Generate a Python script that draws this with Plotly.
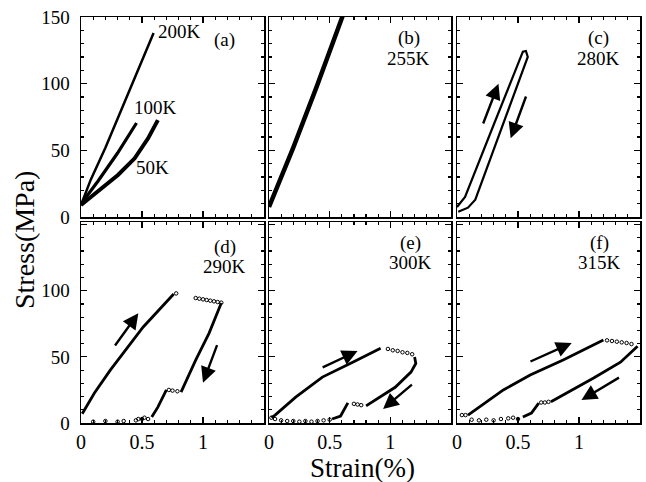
import plotly.graph_objects as go

# ---------------- data ----------------
# (a) 50K / 100K / 200K
a200_x = [0, 0.08, 0.2, 0.31, 0.45, 0.595]
a200_y = [9, 28, 52, 76, 106, 138]
a100_x = [0, 0.05, 0.14, 0.3, 0.455]
a100_y = [9, 16, 27, 48, 70.5]
a50_x = [0, 0.139, 0.303, 0.44, 0.55, 0.63]
a50_y = [9, 19, 31.5, 44, 59, 72.7]
# (b) 255K
b_x = [0, 0.1, 0.2, 0.39, 0.61]
b_y = [7.5, 29, 52, 97, 151.5]
# (c) 280K loop
c_x = [0.0, 0.066, 0.3, 0.54, 0.565, 0.58, 0.15, 0.09, 0.01]
c_y = [7.5, 15, 69, 124, 124.5, 120, 13, 7, 4]
# (d) 290K
d_load_x = [0.01, 0.11, 0.24, 0.51, 0.76]
d_load_y = [7, 22.7, 40, 72.6, 97.5]
d_top_x = [0.78, 0.94, 0.97, 1.0, 1.03, 1.06, 1.09, 1.12, 1.15]
d_top_y = [98, 94.5, 94, 93.5, 93, 92.5, 92, 91.5, 91]
d_unl_x = [1.15, 1.05, 0.94, 0.82]
d_unl_y = [90.7, 68, 47.6, 23.4]
d_mid_x = [0.72, 0.75, 0.79]
d_mid_y = [25, 24.5, 24]
d_low_x = [0.70, 0.63, 0.58]
d_low_y = [25, 12, 4.5]
d_base_x = [0.1, 0.2, 0.3, 0.35, 0.45, 0.47, 0.5, 0.52, 0.55]
d_base_y = [1, 1.5, 1, 1.5, 2, 3, 3, 4, 3]
# (e) 300K
e_load_x = [0.02, 0.05, 0.22, 0.44, 0.69, 0.92]
e_load_y = [4, 6, 19.5, 34.7, 46, 56.6]
e_top_x = [0.98, 1.02, 1.06, 1.1, 1.14, 1.18]
e_top_y = [56, 55, 54.5, 53.5, 53, 52]
e_unl_x = [1.2, 1.21, 1.17, 1.04, 0.8]
e_unl_y = [50, 45, 38.5, 27, 13]
e_mid_x = [0.7, 0.73, 0.76]
e_mid_y = [14.5, 14, 13.5]
e_low_x = [0.65, 0.59, 0.52]
e_low_y = [15.2, 5.3, 3]
e_base_x = [0.02, 0.05, 0.1, 0.15, 0.2, 0.25, 0.3, 0.35, 0.4, 0.45, 0.5]
e_base_y = [4, 3, 2, 1.5, 1.5, 1, 1.5, 1, 1.5, 2, 2.5]
# (f) 315K
f_load_x = [0.09, 0.38, 0.6, 0.87, 1.2]
f_load_y = [6, 25, 36.3, 47.6, 62.7]
f_top_x = [1.23, 1.27, 1.31, 1.35, 1.39, 1.43]
f_top_y = [62.5, 62, 61.5, 61, 60.5, 59.7]
f_unl_x = [1.48, 1.34, 1.12, 0.87, 0.77]
f_unl_y = [58, 46, 34, 21, 16]
f_mid_x = [0.69, 0.72, 0.75]
f_mid_y = [15.5, 15.5, 16]
f_low_x = [0.67, 0.61, 0.54]
f_low_y = [15, 7.5, 4.5]
f_base_x = [0.04, 0.07, 0.12, 0.18, 0.24, 0.3, 0.36, 0.42, 0.46, 0.5]
f_base_y = [6, 6, 2.5, 2, 2.5, 2, 3, 3.5, 4, 3]

# arrows: (panel, tail_x, tail_y, tip_x, tip_y)
arrows = [
    (3, 0.21, 69, 0.34, 100), (3, 0.57, 91.5, 0.44, 59),
    (4, 0.27, 57.5, 0.47, 83), (4, 1.12, 60, 1.0, 30.5),
    (5, 0.43, 41.6, 0.73, 54.4), (5, 1.19, 30, 0.94, 10.6),
    (6, 0.59, 46, 0.94, 60.5), (6, 1.34, 35, 1.02, 17.4),
]
# panel texts: (panel, x, y, text)
labels = [
    (1, 0.81, 139, "200K"), (1, 1.18, 133, "(a)"), (1, 0.61, 82.5, "100K"), (1, 0.59, 37, "50K"),
    (2, 1.15, 134, "(b)"), (2, 1.15, 119, "255K"),
    (3, 1.16, 134, "(c)"), (3, 1.16, 119, "280K"),
    (4, 1.18, 133, "(d)"), (4, 1.18, 118, "290K"),
    (5, 1.17, 136, "(e)"), (5, 1.17, 121, "300K"),
    (6, 1.17, 136, "(f)"), (6, 1.17, 121, "315K"),
]
x_ticks = [0, 0.5, 1, 1.5]
y_ticks = [0, 50, 100, 150]

# ---------------- figure ----------------
W, H = 646, 482
cols = [(81, 264), (269, 451), (457, 640)]
rows = [(17, 217), (222, 423)]
FONT = "Liberation Serif, Times New Roman, Times, serif"

fig = go.Figure()

def ax_name(i, kind):
    return kind if i == 1 else f"{kind}{i}"

def line(i, xs, ys, w=2.5):
    fig.add_trace(go.Scatter(x=xs, y=ys, mode="lines", line=dict(color="black", width=w),
                             xaxis=ax_name(i, "x"), yaxis=ax_name(i, "y"), showlegend=False,
                             hoverinfo="skip"))

def dots(i, xs, ys):
    fig.add_trace(go.Scatter(x=xs, y=ys, mode="markers",
                             marker=dict(symbol="circle-open", size=3.5, color="black", line=dict(width=1)),
                             xaxis=ax_name(i, "x"), yaxis=ax_name(i, "y"), showlegend=False,
                             hoverinfo="skip"))

line(1, a200_x, a200_y, 2.5)
line(1, a100_x, a100_y, 3.2)
line(1, a50_x, a50_y, 4)
line(2, b_x, b_y, 4.5)
line(3, c_x, c_y, 2.2)
for i, (lx, ly, tx, ty, ux, uy, mx, my, wx, wy, bx, by) in zip(
        [4, 5, 6],
        [(d_load_x, d_load_y, d_top_x, d_top_y, d_unl_x, d_unl_y, d_mid_x, d_mid_y, d_low_x, d_low_y, d_base_x, d_base_y),
         (e_load_x, e_load_y, e_top_x, e_top_y, e_unl_x, e_unl_y, e_mid_x, e_mid_y, e_low_x, e_low_y, e_base_x, e_base_y),
         (f_load_x, f_load_y, f_top_x, f_top_y, f_unl_x, f_unl_y, f_mid_x, f_mid_y, f_low_x, f_low_y, f_base_x, f_base_y)]):
    line(i, lx, ly, 2.8)
    dots(i, tx, ty)
    line(i, ux, uy, 2.8)
    dots(i, mx, my)
    line(i, wx, wy, 2.8)
    dots(i, bx, by)

layout = dict(width=W, height=H, margin=dict(l=0, r=0, t=0, b=0, autoexpand=False),
              paper_bgcolor="white", plot_bgcolor="white",
              font=dict(family=FONT, color="black", size=19), annotations=[])

for r in range(2):
    for c in range(3):
        i = r * 3 + c + 1
        x0, x1 = cols[c]
        y0, y1 = rows[r]
        common = dict(showline=True, linecolor="black", linewidth=1.5, mirror="allticks",
                      ticks="inside", ticklen=6, tickwidth=1.2, tickcolor="black", automargin=False,
                      showgrid=False, zeroline=False, fixedrange=True)
        xa = dict(common, domain=[x0 / W, x1 / W], range=[0, 1.5], anchor=ax_name(i, "y"),
                  tickvals=x_ticks,
                  minor=dict(ticks="inside", ticklen=3, dtick=0.1, tick0=0, tickcolor="black", showgrid=False),
                  tickfont=dict(size=20, family=FONT))
        if r == 0:
            xa["showticklabels"] = False
        else:
            xa["ticktext"] = ["0", "0.5", "1", "1.5" if c == 2 else ""]
        ya = dict(common, domain=[1 - y1 / H, 1 - y0 / H], range=[0, 150 if r == 0 else 152],
                  anchor=ax_name(i, "x"), tickvals=y_ticks,
                  minor=dict(ticks="inside", ticklen=3, dtick=10, tick0=0, tickcolor="black", showgrid=False),
                  tickfont=dict(size=19, family=FONT), ticklabelstandoff=6)
        if c != 0:
            ya["showticklabels"] = False
        elif r == 1:
            ya["ticktext"] = ["0", "50", "100", ""]
        layout["xaxis" if i == 1 else f"xaxis{i}"] = xa
        layout["yaxis" if i == 1 else f"yaxis{i}"] = ya

fig.update_layout(**layout)

for (i, tx, ty, hx, hy) in arrows:
    fig.add_annotation(x=hx, y=hy, ax=tx, ay=ty, xref=ax_name(i, "x"), yref=ax_name(i, "y"),
                       axref=ax_name(i, "x"), ayref=ax_name(i, "y"), text="", showarrow=True,
                       arrowhead=2, arrowsize=1.3, arrowwidth=2.4, arrowcolor="black")
for (i, x, y, t) in labels:
    fig.add_annotation(x=x, y=y, xref=ax_name(i, "x"), yref=ax_name(i, "y"), text=t,
                       xanchor="center", yanchor="middle", borderpad=0,
                       showarrow=False, font=dict(size=19, family=FONT, color="black"))

fig.add_annotation(x=362 / W, y=1 - 468 / H, xref="paper", yref="paper", text="Strain(%)",
                   xanchor="center", yanchor="middle", borderpad=0,
                   showarrow=False, font=dict(size=27, family=FONT, color="black"))
fig.add_annotation(x=24 / W, y=1 - 240 / H, xref="paper", yref="paper", text="Stress(MPa)",
                   xanchor="center", yanchor="middle", borderpad=0,
                   textangle=-90, showarrow=False, font=dict(size=28, family=FONT, color="black"))

fig.write_html("out.html", config={"displayModeBar": False, "staticPlot": True},
               post_script="document.body.style.margin='0px';document.body.style.overflow='hidden';")
